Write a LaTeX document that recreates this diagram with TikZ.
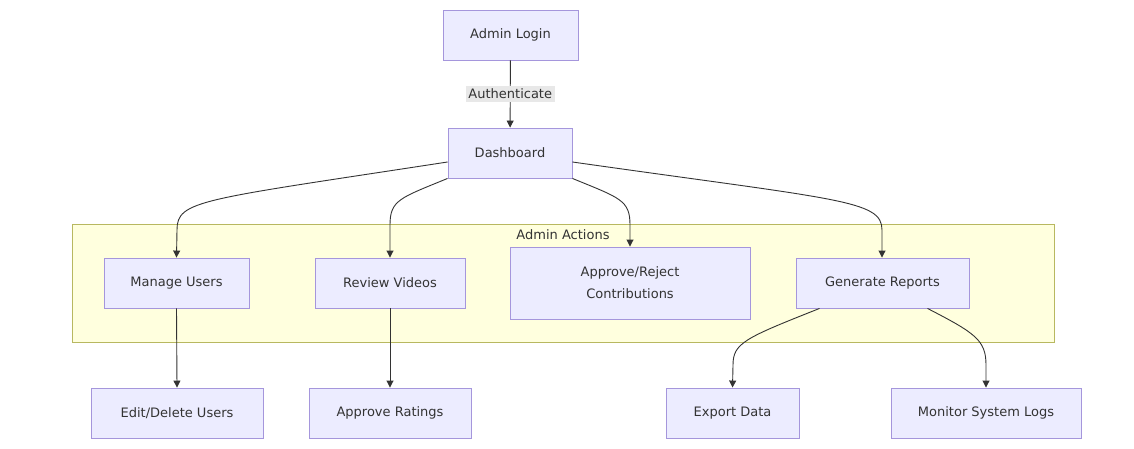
\documentclass[tikz,border=0pt]{standalone}
\usepackage{fontspec}
\setmainfont{DejaVu Sans}
\usetikzlibrary{arrows.meta,calc}
\definecolor{nodefill}{HTML}{ECECFF}
\definecolor{nodeline}{HTML}{A596DC}
\definecolor{txt}{HTML}{333333}
\definecolor{clfill}{HTML}{FFFFDE}
\definecolor{clline}{HTML}{B8B860}
\definecolor{lblfill}{HTML}{E8E8E8}
\tikzset{
  box/.style={draw=nodeline, fill=nodefill, line width=0.9pt, text=txt,
    font=\fontsize{13}{22}\selectfont, minimum height=50pt, inner sep=0pt, align=center},
  edge/.style={draw=txt, line width=0.9pt, -{Triangle[length=7pt,width=7pt]}},
  elabel/.style={fill=lblfill, text=txt, font=\fontsize{13}{15}\selectfont, inner sep=2.5pt},
}
\begin{document}
\begin{tikzpicture}[x=1pt,y=-1pt]
\path[use as bounding box] (0,0) rectangle (1134,449);
% cluster
\draw[fill=clfill, draw=clline, line width=0.9pt] (72,224) rectangle (1054,342);
\node[text=txt, font=\fontsize{13}{15}\selectfont] (cl) at (563,235) {Admin Actions};
% nodes
\node[box, minimum width=135pt] (login) at (510.5,35) {Admin Login};
\node[box, minimum width=124pt] (dash) at (510,153) {Dashboard};
\node[box, minimum width=145pt] (mu) at (176.5,283) {Manage Users};
\node[box, minimum width=150pt] (rv) at (390,283) {Review Videos};
\node[box, minimum width=240pt, minimum height=72pt] (ap) at (630,283) {Approve/Reject\\Contributions};
\node[box, minimum width=173pt] (gen) at (882.5,283) {Generate Reports};
\node[box, minimum width=172pt] (ed) at (177,413) {Edit/Delete Users};
\node[box, minimum width=162pt] (ar) at (390,413) {Approve Ratings};
\node[box, minimum width=133pt] (ex) at (732.5,413) {Export Data};
\node[box, minimum width=190pt] (mon) at (986,413) {Monitor System Logs};
% edges
\draw[edge] (login) -- node[elabel, midway] (auth) {Authenticate} (dash);
\draw[edge] ($(dash.west)+(0,9)$) .. controls (200,200) and (177,200) .. (177,230) -- (mu.north);
\draw[edge] (dash.south west) .. controls (400,198) and (390,200) .. (390,225) -- (rv.north);
\draw[edge] (dash.south east) .. controls (620,198) and (630,200) .. (630,225) -- (ap.north);
\draw[edge] ($(dash.east)+(0,9)$) .. controls (840,200) and (882,200) .. (882,230) -- ($(gen.north)+(-0.5,0)$);
\draw[edge] (mu.south) -- (ed.north);
\draw[edge] (rv.south) -- (ar.north);
\draw[edge] ($(gen.south)+(-63,0)$) .. controls (745,338) and (733,343) .. (733,365) -- (ex.north);
\draw[edge] ($(gen.south)+(45,0)$) .. controls (975,333) and (986,340) .. (986,365) -- (mon.north);
\end{tikzpicture}
\end{document}
